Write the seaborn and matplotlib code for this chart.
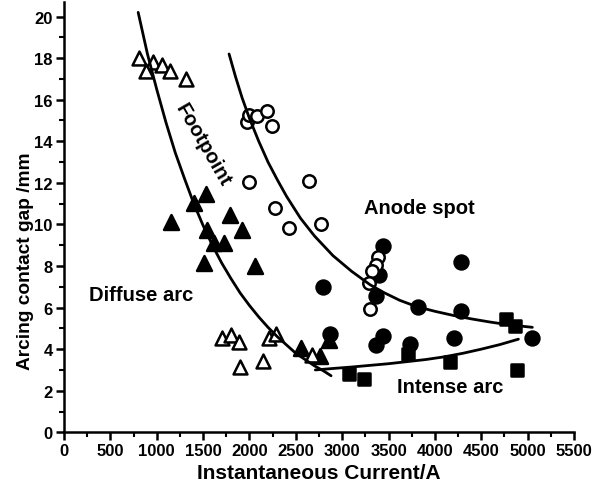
import matplotlib
matplotlib.use('Agg')
import matplotlib.pyplot as plt
import seaborn as sns
from matplotlib.ticker import MultipleLocator

# open triangles (footpoint / diffuse arc)
x_tri_open = [810, 960, 880, 1060, 1140, 1320, 1700, 1800, 1890, 1900, 2150, 2210, 2290, 2670]
y_tri_open = [18.0, 17.8, 17.4, 17.65, 17.4, 17.0, 4.55, 4.7, 4.35, 3.15, 3.45, 4.55, 4.75, 3.7]

# filled triangles
x_tri_fill = [1150, 1400, 1530, 1540, 1790, 1920, 1620, 1730, 1510, 2060, 2560, 2760, 2860]
y_tri_fill = [10.1, 11.05, 11.45, 9.75, 10.45, 9.75, 9.1, 9.1, 8.15, 8.0, 4.05, 3.65, 4.45]

# open circles (anode spot)
x_circ_open = [1970, 2000, 2080, 2190, 2240, 2000, 2640, 2270, 2430, 2770, 3390, 3360, 3320, 3290, 3300]
y_circ_open = [14.95, 15.25, 15.2, 15.45, 14.75, 12.05, 12.1, 10.8, 9.85, 10.0, 8.45, 8.05, 7.75, 7.2, 5.95]

# filled circles
x_circ_fill = [3440, 3400, 3360, 2790, 2870, 3440, 3360, 3730, 3820, 4280, 4280, 4210, 5050]
y_circ_fill = [8.95, 7.55, 6.55, 7.0, 4.75, 4.65, 4.2, 4.25, 6.05, 8.2, 5.85, 4.55, 4.55]

# filled squares (intense arc)
x_sq = [3070, 3240, 3710, 4160, 4770, 4860, 4890]
y_sq = [2.8, 2.55, 3.75, 3.4, 5.45, 5.1, 3.0]

# boundary curves, points
foot_x = [800, 900, 1000, 1100, 1200, 1300, 1400, 1500, 1600, 1700, 1800, 1900, 2000, 2100,
          2200, 2300, 2400, 2500, 2600, 2700, 2800, 2880]
foot_y = [20.2, 18.2, 16.5, 14.9, 13.45, 12.2, 11.0, 9.95, 9.0, 8.15, 7.4, 6.7, 6.1, 5.55,
          5.05, 4.6, 4.2, 3.8, 3.5, 3.2, 2.95, 2.72]

anode_x = [1780, 1850, 1920, 2000, 2100, 2200, 2300, 2400, 2550, 2700, 2900, 3100, 3300, 3450,
           3620, 3800, 4000, 4200, 4400, 4600, 4800, 5050]
anode_y = [18.2, 17.1, 16.1, 15.1, 14.0, 13.0, 12.15, 11.35, 10.3, 9.45, 8.5, 7.75, 7.1, 6.72,
           6.35, 6.05, 5.82, 5.62, 5.45, 5.3, 5.17, 5.05]

intense_x = [2710, 2900, 3100, 3300, 3500, 3700, 3900, 4100, 4300, 4500, 4700, 4900]
intense_y = [3.0, 3.07, 3.14, 3.22, 3.3, 3.4, 3.5, 3.63, 3.8, 4.0, 4.22, 4.48]

sns.set_style('ticks', rc={'text.color': 'black', 'axes.labelcolor': 'black',
                           'xtick.color': 'black', 'ytick.color': 'black',
                           'axes.edgecolor': 'black'})
plt.rcParams['font.family'] = ['Liberation Sans', 'DejaVu Sans']
plt.rcParams['font.weight'] = 'bold'

fig = plt.figure(figsize=(6.03, 4.89), dpi=100)
ax = fig.add_axes([0.1061, 0.1139, 0.8459, 0.88])

mk = dict(edgecolor='black', linewidth=1.8, ax=ax, legend=False, zorder=3)
sns.scatterplot(x=x_tri_fill, y=y_tri_fill, marker='^', s=115, color='black', **mk)
sns.scatterplot(x=x_circ_fill, y=y_circ_fill, marker='o', s=100, color='black', **mk)
sns.scatterplot(x=x_sq, y=y_sq, marker='s', s=85, color='black', **mk)
sns.scatterplot(x=x_tri_open, y=y_tri_open, marker='^', s=100, color='white', **mk)
sns.scatterplot(x=x_circ_open, y=y_circ_open, marker='o', s=80, color='white', **mk)

for cx, cy in [(foot_x, foot_y), (anode_x, anode_y), (intense_x, intense_y)]:
    sns.lineplot(x=cx, y=cy, color='black', linewidth=2.0, ax=ax, sort=False,
                 estimator=None, zorder=4)

txt = dict(fontsize=14.5, fontweight='bold', ha='center', va='center', color='black')
ax.text(832, 6.63, 'Diffuse arc', **txt)
ax.text(3830, 10.8, 'Anode spot', **txt)
ax.text(4160, 2.21, 'Intense arc', **txt)
ax.text(1500, 13.86, 'Footpoint', rotation=-60, rotation_mode='anchor', **txt)

ax.set_xlim(0, 5500)
ax.set_ylim(0, 20.7)
ax.set_xticks(range(0, 5501, 500))
ax.set_yticks(range(0, 21, 2))
ax.xaxis.set_minor_locator(MultipleLocator(250))
ax.yaxis.set_minor_locator(MultipleLocator(1))
ax.tick_params(which='major', length=6, width=1.8, labelsize=12, pad=2, colors='black')
ax.tick_params(which='minor', length=3.5, width=1.5, colors='black')
for lab in ax.get_xticklabels() + ax.get_yticklabels():
    lab.set_fontweight('bold')

ax.set_xlabel('Instantaneous Current/A', fontsize=15, fontweight='bold', labelpad=3)
ylab = ax.set_ylabel('Arcing contact gap /mm', fontsize=13.8, fontweight='bold')
ylab.set_va('center')
ax.yaxis.set_label_coords(-0.076, 0.40)

for side in ['top', 'right']:
    ax.spines[side].set_visible(False)
for side in ['left', 'bottom']:
    ax.spines[side].set_linewidth(1.8)

fig.savefig('out.png', dpi=100)
